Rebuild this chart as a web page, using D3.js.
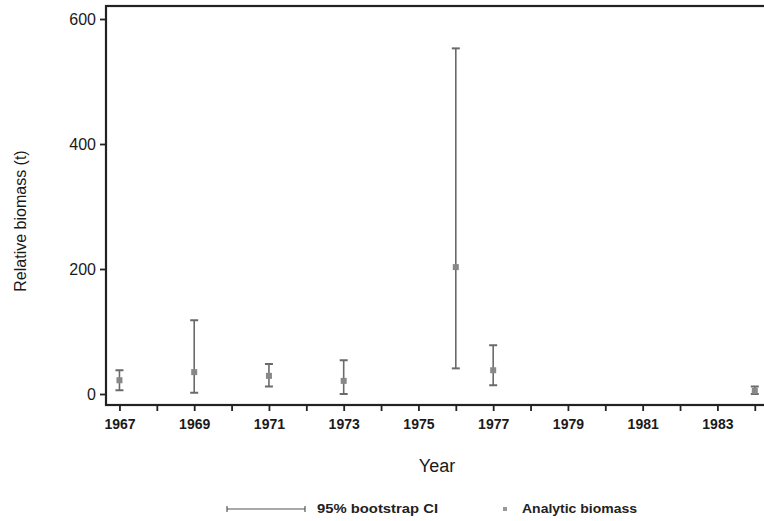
<!DOCTYPE html>
<html>
<head>
  <style>
    body { margin: 0; background: #fff; }
    svg { font-family: "Liberation Sans", Arial, sans-serif; }
  </style>
</head>
<body>
  <div id="chart"></div>
  <script src="https://d3js.org/d3.v7.min.js"></script>
  <script>
  // values
  const years    = [1967, 1969, 1971, 1973, 1976, 1977, 1984];
  const biomass  = [22, 35, 29, 21, 203, 38, 5];
  const ciLow    = [6, 2, 12, 0, 41, 14, 0];
  const ciHigh   = [38, 118, 48, 54, 553, 78, 12];
  const xTickYears = d3.range(1967, 1985);
  const xLabelYears = [1967, 1969, 1971, 1973, 1975, 1977, 1979, 1981, 1983];
  const yTicks = [0, 200, 400, 600];

  const width = 764, height = 521;
  const plotLeft = 106, plotTop = 6, plotRight = 766, plotBottom = 405;

  const svg = d3.select("#chart").append("svg")
      .attr("width", width)
      .attr("height", height);

  const x = d3.scaleLinear().domain([1966.64, 1984.3]).range([plotLeft, plotRight]);
  const y = d3.scaleLinear().domain([-17.6, 620.8]).range([plotBottom, plotTop]);

  // frame (top + left + bottom)
  svg.append("rect")
      .attr("x", plotLeft).attr("y", plotTop)
      .attr("width", plotRight - plotLeft).attr("height", plotBottom - plotTop)
      .attr("fill", "none")
      .attr("stroke", "#222")
      .attr("stroke-width", 2.2);

  // x axis
  const xAxis = svg.append("g")
      .attr("transform", "translate(0," + plotBottom + ")")
      .call(d3.axisBottom(x)
        .tickValues(xTickYears)
        .tickSize(6)
        .tickFormat(d => xLabelYears.includes(d) ? d : ""));
  xAxis.select(".domain").remove();
  xAxis.selectAll("line").attr("stroke", "#222").attr("stroke-width", 1.8);
  xAxis.selectAll("text")
      .attr("font-size", 14)
      .attr("font-weight", "bold")
      .attr("fill", "#1a1a1a")
      .attr("dy", "1.05em");

  // y axis
  const yAxis = svg.append("g")
      .attr("transform", "translate(" + plotLeft + ",0)")
      .call(d3.axisLeft(y).tickValues(yTicks).tickSize(6).tickPadding(4));
  yAxis.select(".domain").remove();
  yAxis.selectAll("line").attr("stroke", "#222").attr("stroke-width", 1.8);
  yAxis.selectAll("text").attr("font-size", 16).attr("fill", "#1a1a1a");

  // axis titles
  svg.append("text")
      .attr("x", 437).attr("y", 472)
      .attr("text-anchor", "middle")
      .attr("font-size", 18)
      .attr("fill", "#1a1a1a")
      .text("Year");

  svg.append("text")
      .attr("transform", "translate(26,221) rotate(-90)")
      .attr("text-anchor", "middle")
      .attr("font-size", 16)
      .attr("fill", "#1a1a1a")
      .text("Relative biomass (t)");

  // error bars
  const cap = 4;
  const bars = svg.append("g")
      .attr("stroke", "#6a6a6a")
      .attr("stroke-width", 1.6);
  years.forEach((yr, i) => {
    const cx = x(yr);
    bars.append("line")
        .attr("x1", cx).attr("x2", cx)
        .attr("y1", y(ciLow[i])).attr("y2", y(ciHigh[i]));
    [ciLow[i], ciHigh[i]].forEach(v => {
      bars.append("line")
          .attr("x1", cx - cap).attr("x2", cx + cap)
          .attr("y1", y(v)).attr("y2", y(v))
          .attr("stroke-width", 2);
    });
  });

  // analytic biomass points
  svg.append("g").selectAll("rect")
    .data(years)
    .join("rect")
      .attr("x", (d) => x(d) - 3)
      .attr("y", (d, i) => y(biomass[i]) - 3)
      .attr("width", 6).attr("height", 6)
      .attr("fill", "#888");

  // legend
  const lg = svg.append("g").attr("stroke", "#555").attr("stroke-width", 1.2);
  lg.append("line").attr("x1", 227).attr("x2", 305).attr("y1", 509).attr("y2", 509);
  lg.append("line").attr("x1", 227).attr("x2", 227).attr("y1", 506).attr("y2", 512);
  lg.append("line").attr("x1", 305).attr("x2", 305).attr("y1", 506).attr("y2", 512);

  svg.append("text")
      .attr("x", 317).attr("y", 513)
      .attr("font-size", 12)
      .attr("font-weight", "bold")
      .attr("fill", "#222")
      .attr("textLength", 121)
      .attr("lengthAdjust", "spacingAndGlyphs")
      .text("95% bootstrap CI");

  svg.append("rect")
      .attr("x", 503).attr("y", 507)
      .attr("width", 4).attr("height", 4)
      .attr("fill", "#999");

  svg.append("text")
      .attr("x", 522).attr("y", 513)
      .attr("font-size", 12)
      .attr("font-weight", "bold")
      .attr("fill", "#222")
      .attr("textLength", 115)
      .attr("lengthAdjust", "spacingAndGlyphs")
      .text("Analytic biomass");
  </script>
</body>
</html>
